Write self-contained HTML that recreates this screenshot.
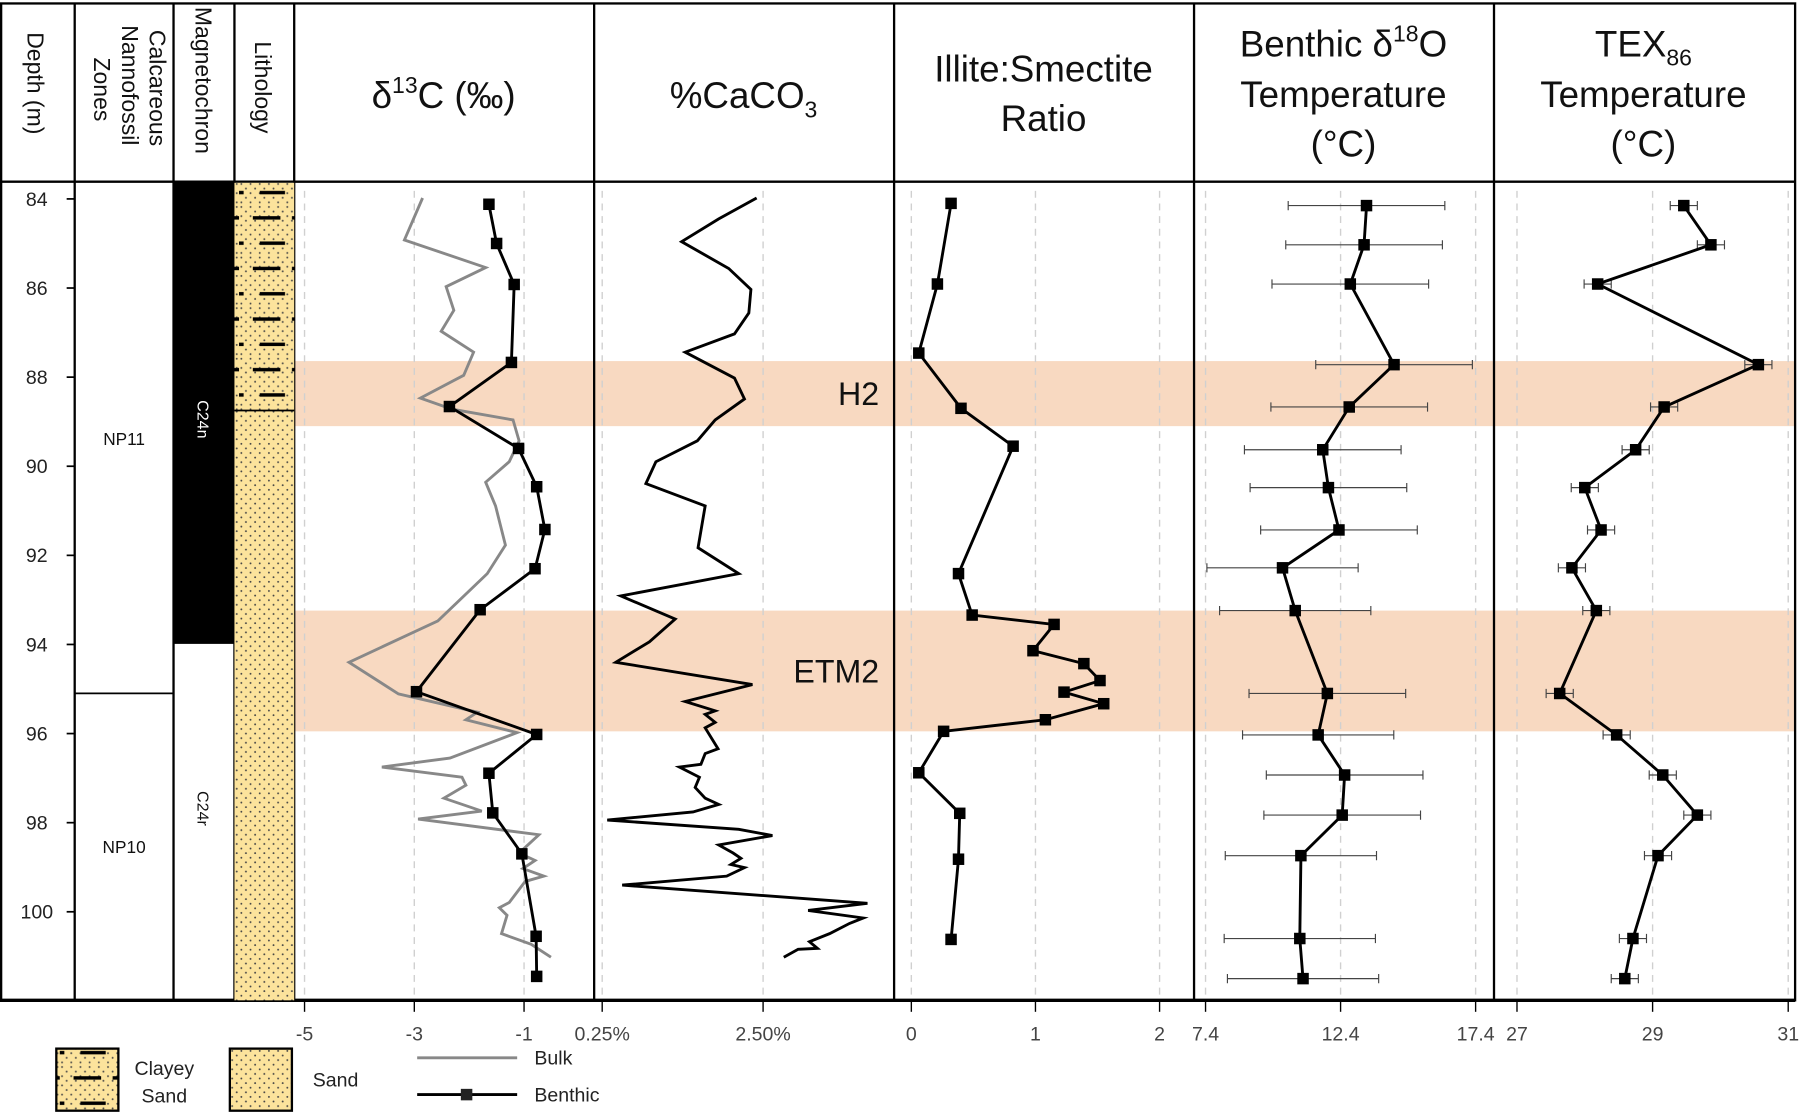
<!DOCTYPE html>
<html><head><meta charset="utf-8"><style>
html,body{margin:0;padding:0;background:#fff;}
svg{display:block;font-family:"Liberation Sans",sans-serif;}
</style></head><body>
<svg id="c" width="1802" height="1113" viewBox="0 0 1568 968" preserveAspectRatio="none" xmlns="http://www.w3.org/2000/svg">
<defs>
<pattern id="dots" width="8" height="8" patternUnits="userSpaceOnUse"><rect width="8" height="8" fill="#fce39c"/><circle cx="2" cy="2" r="0.8" fill="#444"/><circle cx="6" cy="6" r="0.8" fill="#444"/></pattern>
<pattern id="clay" width="52" height="44" patternUnits="userSpaceOnUse" y="2"><rect width="52" height="44" fill="url(#dots)"/><rect x="12" y="10" width="24" height="3" fill="#000"/><rect x="46" y="10" width="6" height="3" fill="#000"/><rect x="0" y="32" width="4" height="3" fill="#000"/><rect x="18" y="32" width="22" height="3" fill="#000"/></pattern>
</defs>
<g id="bands"></g>
<g id="grid"></g>
<g id="frame" fill="none" stroke="#000" stroke-width="2"></g>
<g id="series"></g>
<g id="labels"></g>
</svg>
<script>
// ---- data ----
const depthTicks=[84,86,88,90,92,94,96,98,100];
const bulkDepth=[83.98,84.92,85.54,85.97,86.50,86.97,87.44,87.96,88.47,88.72,88.96,89.43,89.90,90.36,90.89,91.77,92.41,93.47,94.40,95.11,95.52,95.69,95.98,96.55,96.75,96.98,97.16,97.45,97.74,97.92,98.27,98.68,98.85,99.03,99.20,99.32,99.79,99.91,100.08,100.49,100.73,101.02];
const bulkD13C=[-2.85,-3.18,-1.70,-2.42,-2.28,-2.51,-1.92,-2.10,-2.89,-2.31,-1.20,-1.09,-1.27,-1.70,-1.52,-1.34,-1.67,-2.57,-4.19,-3.29,-1.85,-2.06,-1.13,-2.35,-3.59,-2.13,-2.06,-2.46,-1.77,-2.93,-0.73,-1.09,-0.80,-1.02,-0.64,-0.98,-1.27,-1.45,-1.31,-1.41,-0.87,-0.51];
const benDepth=[84.12,85.00,85.92,87.67,88.66,89.60,90.46,91.42,92.30,93.22,95.06,96.02,96.89,97.78,98.70,100.55,101.45];
const benD13C=[-1.64,-1.50,-1.18,-1.23,-2.36,-1.10,-0.77,-0.62,-0.80,-1.80,-2.96,-0.77,-1.64,-1.57,-1.04,-0.78,-0.77];
const cacoDepth=[83.98,84.45,84.96,85.56,86.03,86.56,87.03,87.44,88.02,88.49,88.96,89.43,89.90,90.39,90.89,91.83,92.41,92.91,93.43,93.94,94.40,94.90,95.28,95.49,95.57,95.75,95.87,96.34,96.45,96.69,96.75,96.98,97.21,97.45,97.59,97.76,97.94,98.15,98.29,98.50,98.68,98.80,98.94,99.01,99.20,99.40,99.81,99.97,100.14,100.26,100.49,100.67,100.82,100.84,101.02];
const cacoVal=[2.41,1.88,1.36,2.02,2.33,2.30,2.10,1.41,2.10,2.24,1.83,1.58,1.00,0.86,1.69,1.59,2.16,0.51,1.27,0.91,0.44,2.35,1.41,1.83,1.69,1.83,1.69,1.87,1.69,1.63,1.33,1.61,1.55,1.69,1.88,1.52,0.32,2.16,2.63,1.88,2.08,2.19,2.05,2.24,1.99,0.53,3.96,3.13,3.90,3.71,3.43,3.15,3.26,2.99,2.79];
const isDepth=[84.10,85.91,87.46,88.70,89.55,92.41,93.34,93.55,94.14,94.43,94.81,95.07,95.33,95.69,95.95,96.88,97.79,98.82,100.62];
const isVal=[0.32,0.21,0.06,0.40,0.82,0.38,0.49,1.15,0.98,1.39,1.52,1.23,1.55,1.08,0.26,0.06,0.39,0.38,0.32];
const tDepth=[84.15,85.03,85.91,87.72,88.67,89.63,90.48,91.43,92.28,93.24,95.10,96.03,96.93,97.83,98.74,100.60,101.50];
const btVal=[13.36,13.27,12.76,14.38,12.72,11.74,11.95,12.34,10.25,10.72,11.91,11.57,12.55,12.46,10.93,10.89,11.01];
const btErr=[2.9,2.9,2.9,2.9,2.9,2.9,2.9,2.9,2.8,2.8,2.9,2.8,2.9,2.9,2.8,2.8,2.8];
const texVal=[29.46,29.86,28.19,30.56,29.17,28.75,28.00,28.24,27.81,28.17,27.63,28.47,29.15,29.66,29.08,28.71,28.59];
const texErr=[0.2,0.2,0.2,0.2,0.2,0.2,0.2,0.2,0.2,0.2,0.2,0.2,0.2,0.2,0.2,0.2,0.2];
const d13Ticks=[-5,-3,-1], d13Labels=["-5","-3","-1"];
const cacoTicks=[0.25,2.5], cacoLabels=["0.25%","2.50%"];
const isTicks=[0,1,2], isLabels=["0","1","2"];
const btTicks=[7.4,12.4,17.4], btLabels=["7.4","12.4","17.4"];
const texTicks=[27,29,31], texLabels=["27","29","31"];
const bandsData=[["H2",87.64,89.1],["ETM2",93.24,95.95]];

// ---- scales ----
const NS="http://www.w3.org/2000/svg";
const Y=d=>173+(d-84)*38.75;
const lin=(v0,p0,v1,p1)=>v=>p0+(v-v0)*(p1-p0)/(v1-v0);
const xD13=lin(-5,265,-1,456), xCa=lin(0.25,524,2.5,664), xIS=lin(0,793,2,1009), xBT=lin(7.4,1049,17.4,1284), xTX=lin(27,1320,31,1556);
function mk(parent,tag,attrs,text){const e=document.createElementNS(NS,tag);for(const k in attrs)e.setAttribute(k,attrs[k]);if(text!==undefined)e.textContent=text;document.getElementById(parent).appendChild(e);return e;}

// bands
bandsData.forEach((b,i)=>{
 const r=mk('bands','rect',{x:256,y:Y(b[1]),width:1306,height:Y(b[2])-Y(b[1]),fill:'#f8d9c1'});
 
 
 const t=mk('labels','text',{x:765,y:(Y(b[1])+Y(b[2]))/2+10,'text-anchor':'end','font-size':28,fill:'#111'},b[0]);
 
 
});

// grid + x ticks
const panels=[[d13Ticks,d13Labels,xD13,'d13c'],[cacoTicks,cacoLabels,xCa,'caco3'],[isTicks,isLabels,xIS,'illite-smectite'],[btTicks,btLabels,xBT,'benthic-temp'],[texTicks,texLabels,xTX,'tex86']];
panels.forEach(p=>{p[0].forEach((v,i)=>{const x=p[2](v);
 const g=mk('grid','line',{x1:x,x2:x,y1:166,y2:870,stroke:'#d0d0d0','stroke-width':1.2,'stroke-dasharray':'6,5'});
 
 
 mk('grid','line',{x1:x,x2:x,y1:870,y2:880,stroke:'#000','stroke-width':1.2});
 const t=mk('labels','text',{x:x,y:905,'text-anchor':'middle','font-size':17,fill:'#444'},p[1][i]);
 
 
});});

// frame
const F='frame';
mk(F,'rect',{x:1,y:3,width:1561,height:867});
[65,151,204,256,517,778,1039,1300].forEach(x=>mk(F,'line',{x1:x,x2:x,y1:3,y2:870}));
mk(F,'line',{x1:0,x2:1562,y1:158,y2:158});
mk(F,'line',{x1:0,x2:1562,y1:870,y2:870,'stroke-width':3});
mk(F,'line',{x1:65,x2:151,y1:603,y2:603,'stroke-width':1.5});
// depth ticks
depthTicks.forEach(d=>{mk(F,'line',{x1:58,x2:65,y1:Y(d),y2:Y(d),'stroke-width':1.5});
 const t=mk('labels','text',{x:32,y:Y(d)+6,'text-anchor':'middle','font-size':17,fill:'#222'},String(d));
 
 
});
// magnetochron + lithology
const mag=mk('series','rect',{x:151,y:158,width:53,height:560-158,fill:'#000'});


const l1=mk('series','rect',{x:204,y:159,width:52,height:198,fill:'url(#clay)'});


const l2=mk('series','rect',{x:204,y:357,width:52,height:513,fill:'url(#dots)'});


mk('series','line',{x1:204,x2:256,y1:357,y2:357,stroke:'#000','stroke-width':1.5});

function line(xs,ds,sx,name,color,w){const pts=xs.map((v,i)=>sx(v).toFixed(1)+','+Y(ds[i]).toFixed(1)).join(' ');
 const e=mk('series','polyline',{points:pts,fill:'none',stroke:color,'stroke-width':w,'stroke-linejoin':'miter'});
 
 }
function marks(xs,ds,sx,name,s){xs.forEach((v,i)=>{const e=mk('series','rect',{x:sx(v)-s/2,y:Y(ds[i])-s/2,width:s,height:s,fill:'#000'});
 
 });}
function errs(xs,es,ds,sx,name){xs.forEach((v,i)=>{const y=Y(ds[i]),a=sx(v-es[i]),b=sx(v+es[i]);
 const e=mk('series','path',{d:`M${a},${y}H${b}M${a},${y-4}V${y+4}M${b},${y-4}V${y+4}`,stroke:'#444','stroke-width':1,fill:'none'});
 
 });}

line(bulkD13C,bulkDepth,xD13,'bulk-d13c-line','#888',2.5);
line(benD13C,benDepth,xD13,'benthic-d13c-line','#000',2.5);
marks(benD13C,benDepth,xD13,'benthic-d13c-point',10);
line(cacoVal,cacoDepth,xCa,'caco3-line','#000',2.5);
line(isVal,isDepth,xIS,'illite-smectite-line','#000',2.5);
marks(isVal,isDepth,xIS,'illite-smectite-point',10);
errs(btVal,btErr,tDepth,xBT,'benthic-temp-error-bar');
line(btVal,tDepth,xBT,'benthic-temp-line','#000',2.5);
marks(btVal,tDepth,xBT,'benthic-temp-point',10);
errs(texVal,texErr,tDepth,xTX,'tex86-error-bar');
line(texVal,tDepth,xTX,'tex86-line','#000',2.5);
marks(texVal,tDepth,xTX,'tex86-point',10);
</script>
<script>
// static labels
(function(){const s=document.getElementById('c');
s.insertAdjacentHTML('beforeend',`
<g font-size="20" fill="#111">
<text transform="translate(24,28) rotate(90)" font-size="20">Depth (m)</text>
<text transform="rotate(90)" font-size="20"><tspan x="26" y="-130">Calcareous</tspan><tspan x="22" y="-106">Nannofossil</tspan><tspan x="50" y="-82">Zones</tspan></text>
<text transform="translate(170,6) rotate(90)" font-size="20">Magnetochron</text>
<text transform="translate(222,36) rotate(90)" font-size="20">Lithology</text>
<text x="108" y="387" text-anchor="middle" font-size="15">NP11</text>
<text x="108" y="742" text-anchor="middle" font-size="15">NP10</text>
<text transform="translate(172,348) rotate(90)" font-size="14" fill="#fff">C24n</text>
<text transform="translate(172,688) rotate(90)" font-size="14">C24r</text>
</g>
<g font-size="32" fill="#111" text-anchor="middle">
<text x="386" y="94">δ<tspan font-size="20" dy="-13">13</tspan><tspan dy="13">C (‰)</tspan></text>
<text x="647" y="94">%CaCO<tspan font-size="20" dy="8">3</tspan></text>
<text x="908" y="71">Illite:Smectite</text>
<text x="908" y="114">Ratio</text>
<text x="1169" y="49">Benthic δ<tspan font-size="20" dy="-13">18</tspan><tspan dy="13">O</tspan></text>
<text x="1169" y="93">Temperature</text>
<text x="1169" y="136">(°C)</text>
<text x="1430" y="49">TEX<tspan font-size="20" dy="8">86</tspan></text>
<text x="1430" y="93">Temperature</text>
<text x="1430" y="136">(°C)</text>
</g>
<g font-size="17" fill="#222">
<rect x="49" y="912" width="54" height="54" fill="url(#clay)" stroke="#000" stroke-width="2"/>
<text x="143" y="935" text-anchor="middle">Clayey</text><text x="143" y="959" text-anchor="middle">Sand</text>
<rect x="200" y="912" width="54" height="54" fill="url(#dots)" stroke="#000" stroke-width="2"/>
<text x="292" y="945" text-anchor="middle">Sand</text>
<line x1="363" x2="450" y1="920" y2="920" stroke="#888" stroke-width="2.5"/>
<text x="465" y="926">Bulk</text>
<line x1="363" x2="450" y1="952" y2="952" stroke="#000" stroke-width="2.5"/>
<rect x="401" y="947" width="10" height="10"/>
<text x="465" y="958">Benthic</text>
</g>`);})();
</script>
</body></html>
